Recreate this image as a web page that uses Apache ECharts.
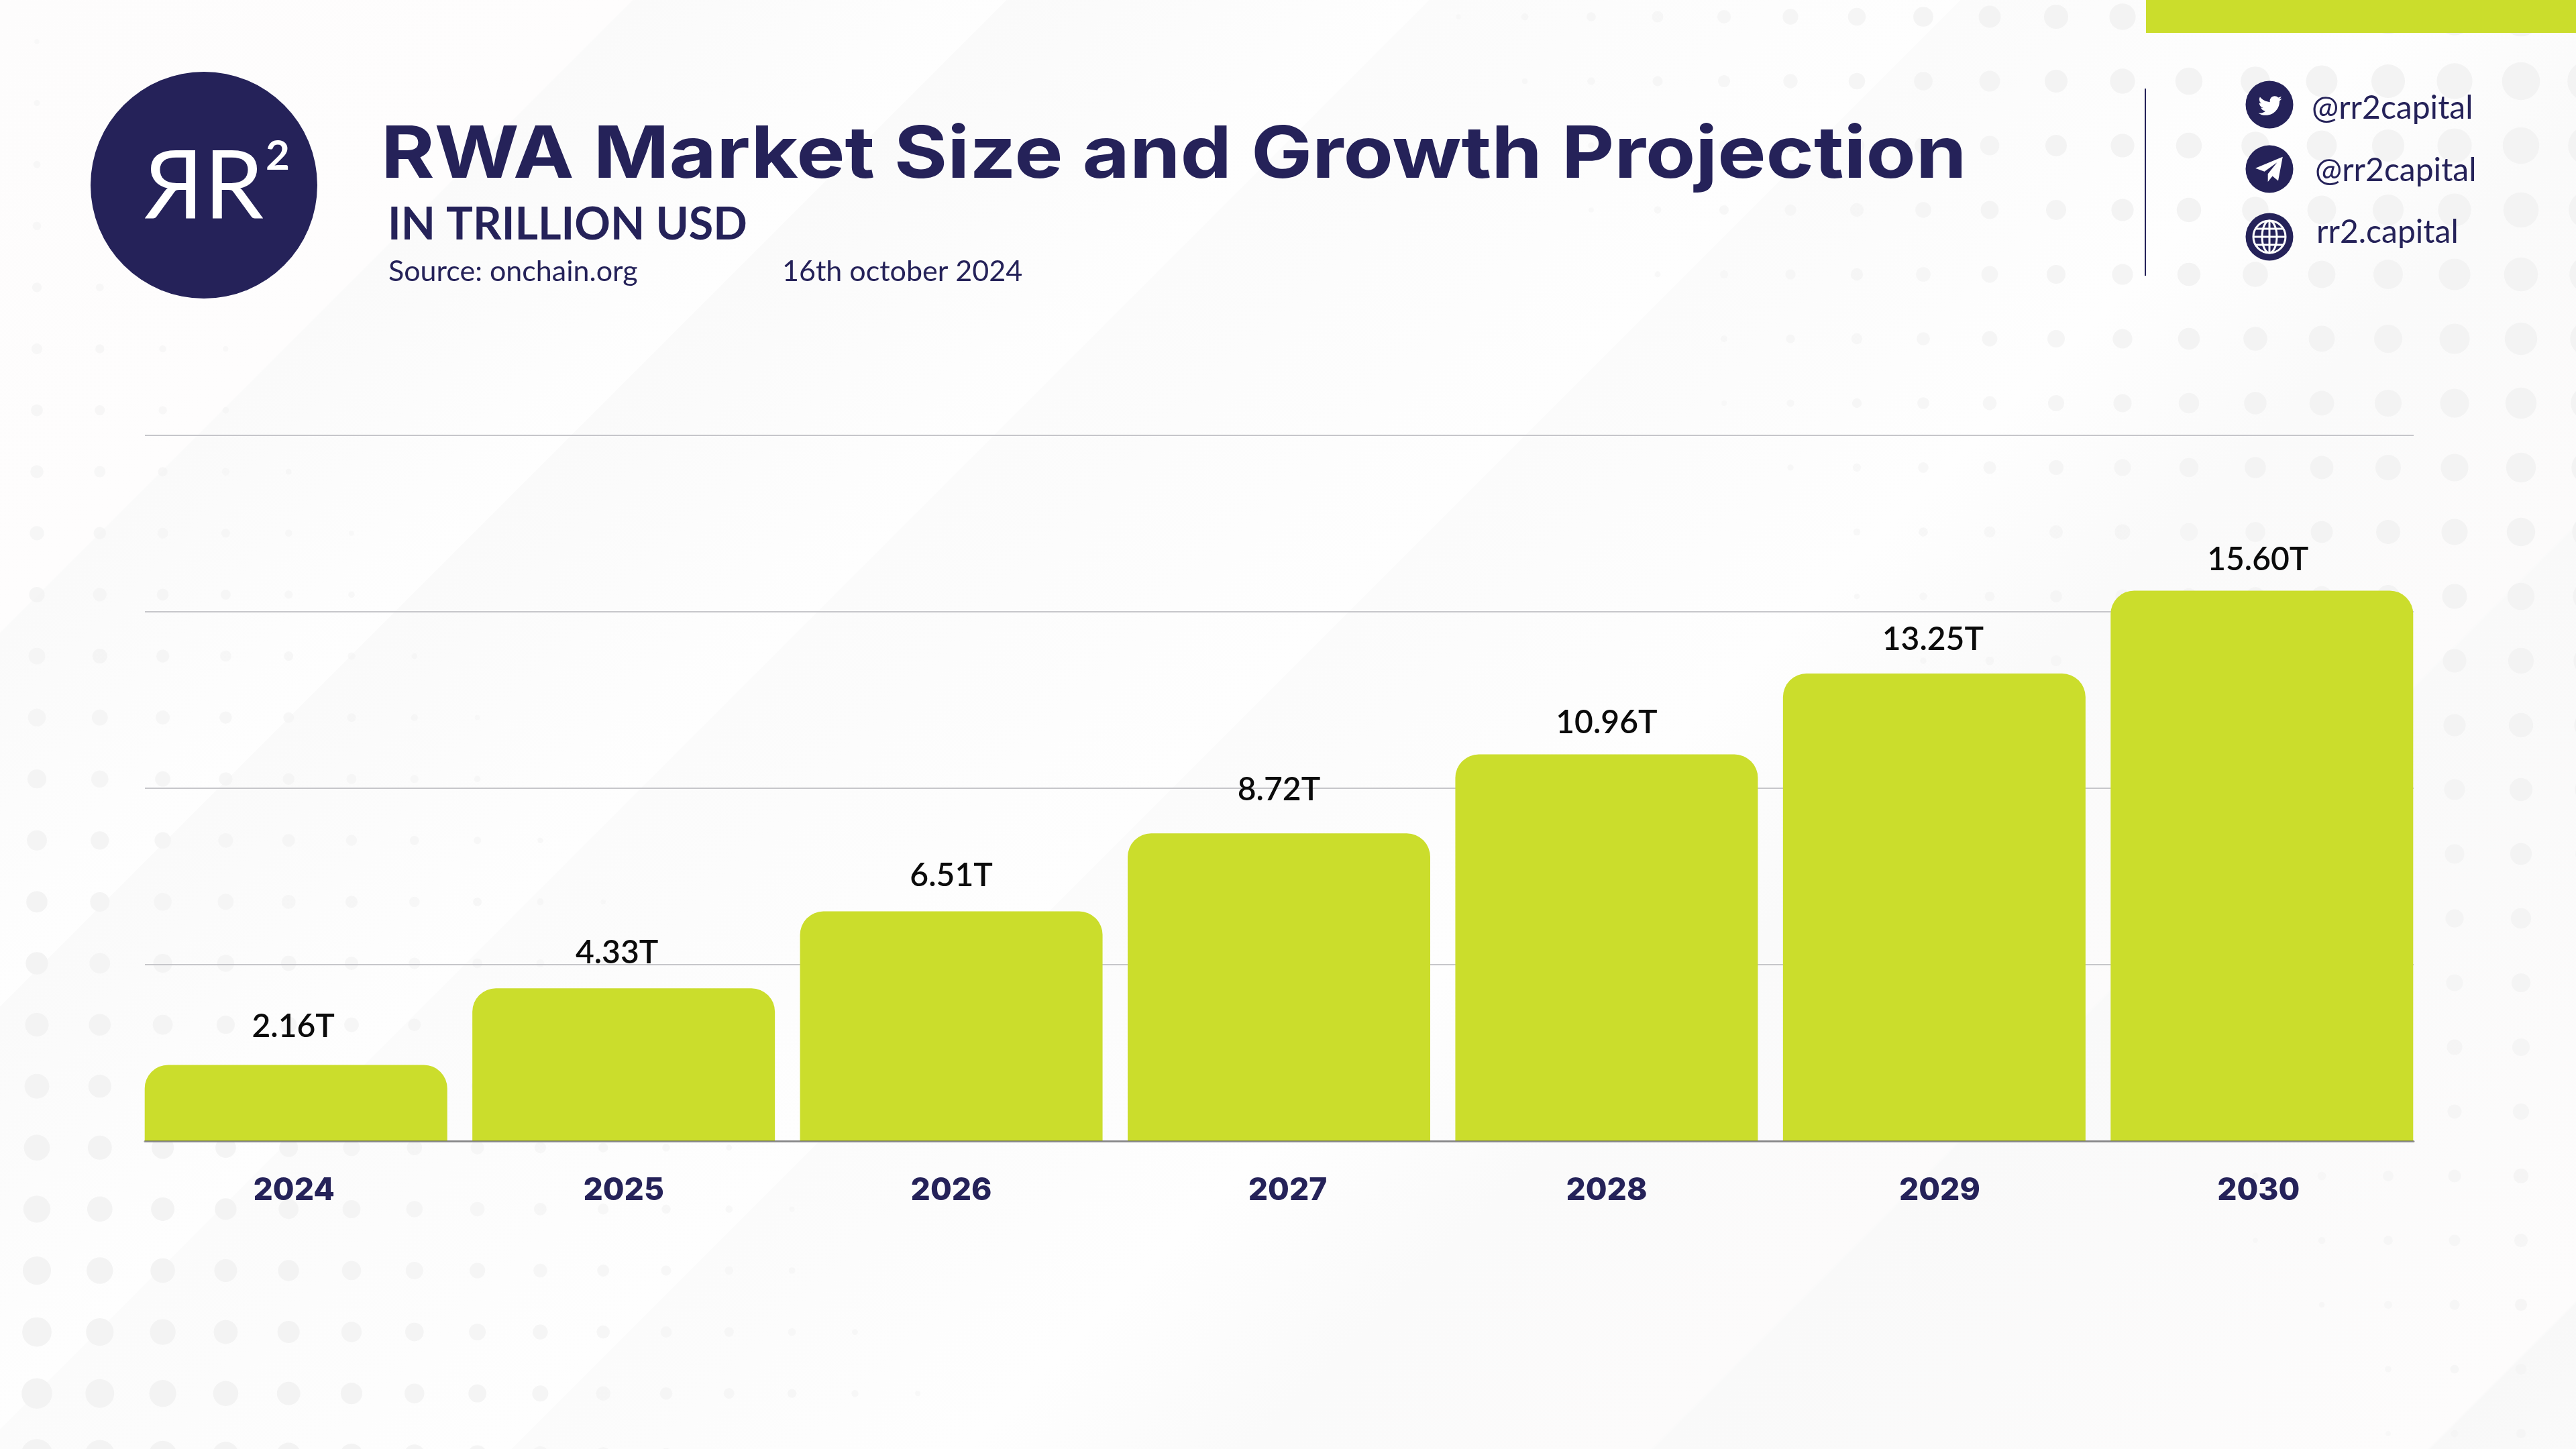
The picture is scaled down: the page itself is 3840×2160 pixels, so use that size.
<!DOCTYPE html>
<html>
<head>
<meta charset="utf-8">
<style>
html,body{margin:0;padding:0;width:3840px;height:2160px;overflow:hidden;
background:linear-gradient(135deg,
#fdfcfc 0%,#fefdfd 15.7%,#fafafa 15.74%,#fefefe 25%,#fafafa 25.01%,#fefefe 35.5%,#fbfbfb 35.51%,#fefefe 48.7%,#fbfbfb 48.71%,#fefefe 60%,#fafafa 67.1%,#fcfbfb 77%,#f9f9f9 77.1%,#fdfcfc 96.3%,#f8f8f8 96.4%,#fafafa 100%);}
#c{width:3840px;height:2160px;}
</style>
</head>
<body>
<div id="c"></div>
<script src="https://cdn.jsdelivr.net/npm/echarts@6/dist/echarts.min.js"></script>
<script>
const categories = ['2024','2025','2026','2027','2028','2029','2030'];
const values = [2.16,4.33,6.51,8.72,10.96,13.25,15.60];
const labelNudgeX = [-4,-10,0,0,0,-2,-6];
const labelNudgeY = [-11,-7,-7,-19,-1,-5,0];
const tickNudgeX = [-3,0,0,13,0,8,-5];
const socials = ['@rr2capital','@rr2capital','rr2.capital'];
const NAVY = '#252259', LIME = '#CBDD2C';

echarts.graphic.registerShape('birdIcon', echarts.graphic.extendPath('M23.643 4.937c-.835.37-1.732.62-2.675.733.962-.576 1.7-1.49 2.048-2.578-.9.534-1.897.922-2.958 1.13-.85-.904-2.06-1.47-3.4-1.47-2.572 0-4.658 2.086-4.658 4.66 0 .364.042.718.12 1.06-3.873-.195-7.304-2.05-9.602-4.868-.4.69-.63 1.49-.63 2.342 0 1.616.823 3.043 2.072 3.878-.764-.025-1.482-.234-2.11-.583v.06c0 2.257 1.605 4.14 3.737 4.568-.392.106-.803.162-1.227.162-.3 0-.593-.028-.877-.082.593 1.85 2.313 3.198 4.352 3.234-1.595 1.25-3.604 1.995-5.786 1.995-.376 0-.747-.022-1.112-.065 2.062 1.323 4.51 2.093 7.14 2.093 8.57 0 13.255-7.098 13.255-13.254 0-.2-.005-.402-.014-.602.91-.658 1.7-1.477 2.323-2.41z', {}));
echarts.graphic.registerShape('planeIcon', echarts.graphic.extendPath('M24 1 L0 11 L8 14 L19 6 L11 16 L11 23 L15 18 L20 22 Z', {}));

const chart = echarts.init(document.getElementById('c'), null, {renderer:'canvas', width:3840, height:2160});

const g = [];
// halftone dots of the backdrop (decoration)
function dot(x,y,r){ if(r>=3.6) g.push({type:'circle',silent:true,z:0,shape:{cx:x,cy:y,r:r},style:{fill:'#f3f3f3',opacity:Math.min(1,0.4+r/28)}}); }
for(let j=0;j<24;j++){ const y=62+91.6*j;
  for(let i=0;i<16;i++){ dot(55+93.8*i,y,8+(y-520)*0.0095-1.35*i); } }
for(let j=0;j<23;j++){ const y=25+96*j;
  for(let n=-1;n<18;n++){ dot(3758-99*n,y,29.5-y*0.0105-1.6*n); } }

// top accent bar and divider
g.push({type:'rect',silent:true,z:1,shape:{x:3199,y:0,width:641,height:49},style:{fill:LIME}});
g.push({type:'line',silent:true,z:1,shape:{x1:3198,y1:132,x2:3198,y2:411},style:{stroke:NAVY,lineWidth:2}});

// logo
g.push({type:'circle',silent:true,z:5,shape:{cx:304,cy:276,r:169},style:{fill:NAVY}});
g.push({type:'text',silent:true,z:6,x:304,y:279,scaleX:-1,style:{text:'R',x:0,y:0,font:'400 142px Lato',fill:'#fff',textAlign:'left',textVerticalAlign:'middle'}});
g.push({type:'text',silent:true,z:6,x:304,y:279,style:{text:'R',x:0,y:0,font:'400 142px Lato',fill:'#fff',textAlign:'left',textVerticalAlign:'middle'}});
g.push({type:'text',silent:true,z:6,style:{text:'2',x:414,y:233,font:'700 62px Lato',fill:'#fff',textAlign:'center',textVerticalAlign:'middle'}});

// heading texts
function txt(t,x,y,font,fill,sx){ g.push({type:'text',silent:true,z:6,x:x,y:y,scaleX:sx||1,style:{text:t,x:0,y:0,font:font,fill:fill||NAVY,textAlign:'left',textVerticalAlign:'middle'}}); }
txt('RWA Market Size and Growth Projection',568,233,'700 107px Inter',NAVY,1.135);
txt('IN TRILLION USD',578,336,'700 66.5px Lato');
txt('Source: onchain.org',579,405,'400 43px Lato');
txt('16th october 2024',1166,405,'400 43px Lato');

// social row
const iconY=[156,252,353], textX=[3446,3451,3453], textY=[162,255,347];
socials.forEach((s,i)=>{
  g.push({type:'circle',silent:true,z:5,shape:{cx:3383,cy:iconY[i],r:35.5},style:{fill:NAVY}});
  txt(s,textX[i],textY[i],'400 48px Lato');
});
g.push({type:'birdIcon',silent:true,z:6,x:3365,y:139,scaleX:1.55,scaleY:1.55,style:{fill:'#fff'}});
g.push({type:'planeIcon',silent:true,z:6,x:3362,y:232,scaleX:1.7,scaleY:1.7,style:{fill:'#fff'}});
const gx=3383, gy=353, sw={stroke:'#fff',lineWidth:3,fill:'none'};
g.push({type:'circle',silent:true,z:6,shape:{cx:gx,cy:gy,r:24},style:sw});
g.push({type:'ellipse',silent:true,z:6,shape:{cx:gx,cy:gy,rx:11,ry:24},style:sw});
g.push({type:'line',silent:true,z:6,shape:{x1:gx,y1:gy-24,x2:gx,y2:gy+24},style:sw});
g.push({type:'line',silent:true,z:6,shape:{x1:gx-24,y1:gy,x2:gx+24,y2:gy},style:sw});
g.push({type:'line',silent:true,z:6,shape:{x1:gx-21,y1:gy-12,x2:gx+21,y2:gy-12},style:sw});
g.push({type:'line',silent:true,z:6,shape:{x1:gx-21,y1:gy+12,x2:gx+21,y2:gy+12},style:sw});

chart.setOption({
  backgroundColor:'transparent',
  animation:false,
  graphic:{elements:g},
  grid:[
    {left:216,width:3382,top:649,height:1052},
    {left:197,width:3419,top:649,height:1052}
  ],
  xAxis:[
    {type:'category',gridIndex:0,data:categories,z:5,axisTick:{show:false},axisLabel:{show:false},
     axisLine:{show:true,lineStyle:{color:'rgba(95,95,95,0.62)',width:3}},splitLine:{show:false}},
    {type:'category',gridIndex:1,z:6,
     data:categories.map((c,i)=>({value:c,textStyle:{padding:tickNudgeX[i]>=0?[0,0,0,2*tickNudgeX[i]]:[0,-2*tickNudgeX[i],0,0]}})),
     axisTick:{show:false},axisLine:{show:false},splitLine:{show:false},
     axisLabel:{show:true,interval:0,margin:51,color:NAVY,fontFamily:'Inter',fontWeight:800,fontSize:46}}
  ],
  yAxis:[
    {type:'value',gridIndex:0,min:0,max:20,interval:5,axisLabel:{show:false},axisTick:{show:false},axisLine:{show:false},
     splitLine:{show:true,lineStyle:{color:'#c6c6ca',width:2}}},
    {type:'value',gridIndex:1,min:0,max:20,interval:5,axisLabel:{show:false},axisTick:{show:false},axisLine:{show:false},splitLine:{show:false}}
  ],
  series:[{
    type:'bar',xAxisIndex:1,yAxisIndex:1,barWidth:451,z:3,
    itemStyle:{color:LIME,borderRadius:[35,35,0,0]},
    label:{show:true,position:'top',distance:22,color:'#0b0b0b',fontFamily:'Lato',fontWeight:600,fontSize:48,
      formatter:p=>p.value.toFixed(2)+'T'},
    data:values.map((v,i)=>({value:v,label:{offset:[labelNudgeX[i],labelNudgeY[i]]}}))
  }]
});
</script>
</body>
</html>
